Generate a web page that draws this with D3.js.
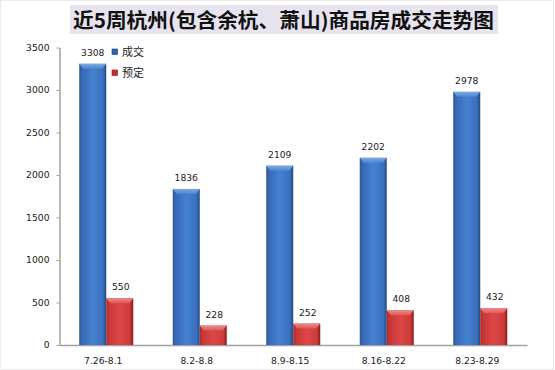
<!DOCTYPE html>
<html><head><meta charset="utf-8">
<script src="https://cdn.jsdelivr.net/npm/d3@7"></script>
<style>html,body{margin:0;padding:0;background:#fff;}svg{display:block;}</style>
</head><body>
<svg id="chart" width="555" height="370"></svg>
<script>
const title = "近5周杭州(包含余杭、萧山)商品房成交走势图";
const categories = ["7.26-8.1","8.2-8.8","8.9-8.15","8.16-8.22","8.23-8.29"];
const seriesNames = ["成交","预定"];
const dealValues = [3308,1836,2109,2202,2978];
const bookedValues = [550,228,252,408,432];
const yTicks = [0,500,1000,1500,2000,2500,3000,3500];

const svg = d3.select("#chart");
const W = 555, H = 370;
const plot = {left:59.5, right:527, top:47.5, bottom:345};

svg.append("rect").attr("x",0.5).attr("y",0.5).attr("width",553).attr("height",369)
  .attr("fill","#fff").attr("stroke","#ebebeb");

const defs = svg.append("defs");
function grad(id, stops, vertical){
  const g = defs.append("linearGradient").attr("id",id)
    .attr("x1",0).attr("y1",0).attr("x2",vertical?0:1).attr("y2",vertical?1:0);
  stops.forEach(s=>g.append("stop").attr("offset",s[0]).attr("stop-color",s[1]));
}
grad("gBlue",[[0,"#2a569a"],[0.1,"#3769b5"],[0.5,"#4581d0"],[0.88,"#3a6fbe"],[1,"#23477f"]]);
grad("gRed",[[0,"#a82a2a"],[0.1,"#c83636"],[0.5,"#dc4848"],[0.88,"#cc3a3a"],[1,"#861b1b"]]);
grad("gBlueTop",[[0,"#7fa8e0"],[1,"#4a86d4"]],true);
grad("gRedTop",[[0,"#ee8a8a"],[1,"#e05656"]],true);

// title
svg.append("rect").attr("x",70).attr("y",5).attr("width",428).attr("height",29).attr("fill","#e8e4ef");
svg.append("text").attr("x",73).attr("y",28)
  .attr("font-family","'Noto Sans CJK SC', sans-serif").attr("font-weight",700)
  .attr("font-size",20).attr("fill","#111")
  .attr("textLength",421).attr("lengthAdjust","spacingAndGlyphs")
  .text(title);

const x0 = d3.scaleBand().domain(categories).range([plot.left, plot.right]).padding(0);
const groupW = 54;
const x1 = d3.scaleBand().domain(seriesNames).range([0, groupW]).padding(0);
const y = d3.scaleLinear().domain([0,3500]).range([plot.bottom, plot.top]);

// y axis
const yAxis = svg.append("g").attr("transform",`translate(${plot.left},0)`)
  .call(d3.axisLeft(y).tickValues(yTicks).tickFormat(d3.format("d")).tickSize(3).tickSizeOuter(0).tickPadding(7));
yAxis.select(".domain").attr("stroke","#a0a0a0").attr("stroke-width",1.5);
yAxis.selectAll(".tick line").attr("stroke","#a0a0a0");
yAxis.selectAll("text").attr("font-family","'DejaVu Sans', sans-serif").attr("font-size",9.2).attr("fill","#1a1a1a");

// x axis
const xAxis = svg.append("g").attr("transform",`translate(0,${plot.bottom})`)
  .call(d3.axisBottom(x0).tickSize(0).tickSizeOuter(0).tickPadding(12));
xAxis.select(".domain").attr("stroke","#a0a0a0").attr("stroke-width",1.5);
xAxis.selectAll("text").attr("font-family","'DejaVu Sans', sans-serif").attr("font-size",9.2).attr("fill","#1a1a1a")
  .attr("dx",-3);

const data = categories.map((c,i)=>({cat:c, vals:[{s:seriesNames[0],v:dealValues[i]},{s:seriesNames[1],v:bookedValues[i]}]}));
const fills = {"成交":["url(#gBlue)","url(#gBlueTop)"],"预定":["url(#gRed)","url(#gRedTop)"]};

const groups = svg.append("g").selectAll("g").data(data).join("g")
  .attr("transform",d=>`translate(${x0(d.cat)+(x0.bandwidth()-groupW)/2},0)`);

groups.each(function(d){
  const g = d3.select(this);
  d.vals.forEach(o=>{
    const bx = x1(o.s), bw = x1.bandwidth(), top = y(o.v), h = plot.bottom - top;
    g.append("rect").attr("x",bx).attr("y",top).attr("width",bw).attr("height",h)
      .attr("fill",fills[o.s][0]);
    g.append("path")
      .attr("d",`M${bx},${top}L${bx+bw},${top}L${bx+bw-4},${top+5}L${bx+4},${top+5}Z`)
      .attr("fill",fills[o.s][1]);
    g.append("text").attr("x",bx+bw/2 - (o.s==="成交"?0:-1)).attr("y",top-8)
      .attr("text-anchor","middle")
      .attr("font-family","'DejaVu Sans', sans-serif").attr("font-size",9.2).attr("fill","#1a1a1a")
      .text(o.v);
  });
});

// legend
const legColors = {"成交":"#2f63b0","预定":"#c0302f"};
const leg = svg.append("g").selectAll("g").data(seriesNames).join("g")
  .attr("transform",(d,i)=>`translate(112,${49+i*21})`);
leg.append("rect").attr("width",5.5).attr("height",5.5).attr("fill",d=>legColors[d])
  .attr("stroke",d=>d==="成交"?"#1d3f75":"#7d1a1a").attr("stroke-width",0.6);
leg.append("text").attr("x",10).attr("y",6.5)
  .attr("font-family","'Noto Sans CJK SC', sans-serif").attr("font-size",11).attr("fill","#1a1a1a")
  .text(d=>d);
</script>
</body></html>
